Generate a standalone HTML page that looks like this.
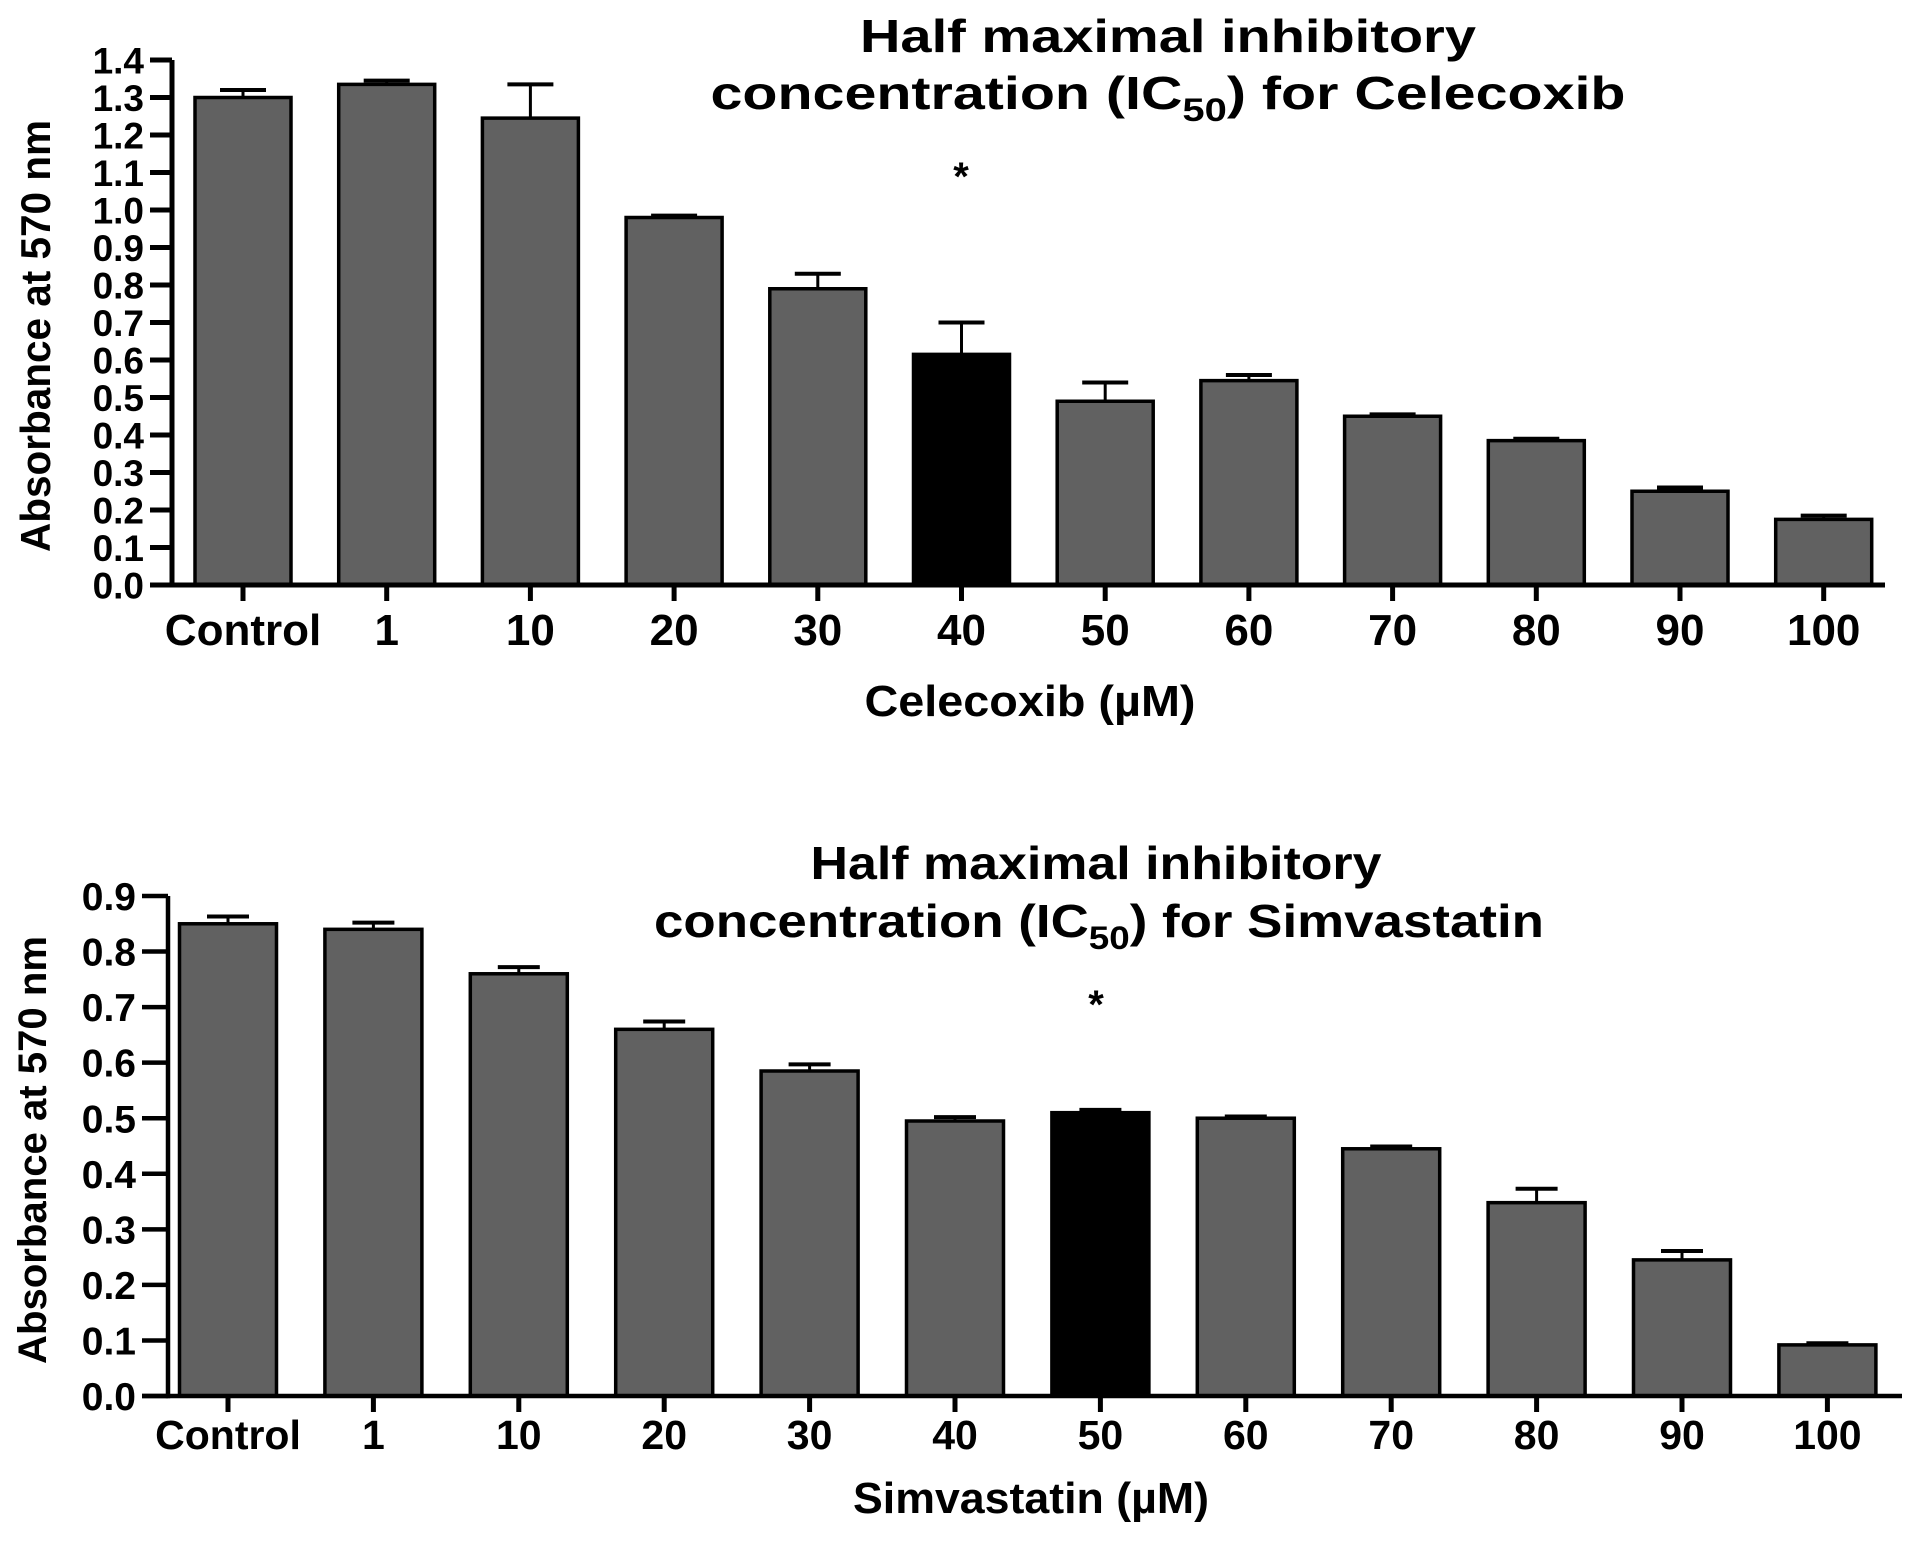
<!DOCTYPE html>
<html><head><meta charset="utf-8">
<style>
html,body{margin:0;padding:0;background:#fff;}
svg{display:block;}
text{font-family:"Liberation Sans",Arial,sans-serif;font-weight:bold;fill:#000;}
</style></head>
<body>
<svg id="fig" width="1913" height="1554" viewBox="0 0 1913 1554" xmlns="http://www.w3.org/2000/svg">
  <g id="top"></g>
  <g id="bot"></g>
  <text x="1168" y="52" font-size="46" text-anchor="middle" textLength="616" lengthAdjust="spacingAndGlyphs">Half maximal inhibitory</text>
  <text x="1168" y="109" font-size="46" text-anchor="middle" textLength="915" lengthAdjust="spacingAndGlyphs">concentration (IC<tspan font-size="32" dy="12">50</tspan><tspan dy="-12">) for Celecoxib</tspan></text>
  <text x="961" y="190" font-size="40" text-anchor="middle">*</text>
  <text x="1030" y="716" font-size="44" text-anchor="middle" textLength="331" lengthAdjust="spacingAndGlyphs">Celecoxib (µM)</text>
  <text transform="translate(50,336) rotate(-90)" font-size="42" text-anchor="middle" textLength="432" lengthAdjust="spacingAndGlyphs">Absorbance at 570 nm</text>

  <text x="1096" y="879" font-size="46" text-anchor="middle" textLength="571" lengthAdjust="spacingAndGlyphs">Half maximal inhibitory</text>
  <text x="1099" y="937" font-size="46" text-anchor="middle" textLength="890" lengthAdjust="spacingAndGlyphs">concentration (IC<tspan font-size="32" dy="12">50</tspan><tspan dy="-12">) for Simvastatin</tspan></text>
  <text x="1096" y="1018" font-size="40" text-anchor="middle">*</text>
  <text x="1031" y="1513" font-size="44" text-anchor="middle" textLength="356" lengthAdjust="spacingAndGlyphs">Simvastatin (µM)</text>
  <text transform="translate(46,1150) rotate(-90)" font-size="40" text-anchor="middle" textLength="428" lengthAdjust="spacingAndGlyphs">Absorbance at 570 nm</text>
</svg>
<script>
var categories = ["Control","1","10","20","30","40","50","60","70","80","90","100"];
var celecoxibValues = [1.30,1.335,1.245,0.98,0.79,0.615,0.49,0.545,0.45,0.385,0.25,0.175];
var celecoxibErrors = [0.02,0.01,0.09,0.005,0.04,0.085,0.05,0.015,0.005,0.005,0.01,0.01];
var celecoxibHighlight = 5;
var celecoxibTicks = ["0.0","0.1","0.2","0.3","0.4","0.5","0.6","0.7","0.8","0.9","1.0","1.1","1.2","1.3","1.4"];
var simvastatinValues = [0.85,0.84,0.76,0.66,0.585,0.495,0.51,0.50,0.445,0.348,0.245,0.092];
var simvastatinErrors = [0.013,0.012,0.012,0.014,0.012,0.007,0.005,0.003,0.004,0.025,0.016,0.003];
var simvastatinHighlight = 6;
var simvastatinTicks = ["0.0","0.1","0.2","0.3","0.4","0.5","0.6","0.7","0.8","0.9"];

var NS="http://www.w3.org/2000/svg";
function mk(tag,attrs,parent){var e=document.createElementNS(NS,tag);for(var k in attrs)e.setAttribute(k,attrs[k]);parent.appendChild(e);return e;}

function drawChart(g,cfg){
  var y=function(v){return cfg.y0-(v/cfg.ymax)*(cfg.y0-cfg.yTop);};
  var x=function(i){return cfg.x0+i*cfg.step;};
  cfg.values.forEach(function(v,i){
    var cx=x(i);
    var ytop=y(v+cfg.errors[i]);
    var l=mk('line',{x1:cx,x2:cx,y1:y(v),y2:ytop,stroke:'#000','stroke-width':3},g);
    
    
    var c=mk('line',{x1:cx-cfg.cap/2,x2:cx+cfg.cap/2,y1:ytop,y2:ytop,stroke:'#000','stroke-width':4},g);
    
    
    var r=mk('rect',{x:cx-cfg.bw/2,y:y(v),width:cfg.bw,height:cfg.y0-y(v),fill:i===cfg.hl?'#000':'#616161',stroke:'#000','stroke-width':3.5},g);
    
    
    var t=mk('line',{x1:cx,x2:cx,y1:cfg.y0,y2:cfg.y0+cfg.tickLen,stroke:'#000','stroke-width':5},g);
    
    
    var lb=mk('text',{x:cx,y:cfg.labelY,'font-size':cfg.xfs,'text-anchor':'middle'},g);
    lb.textContent=categories[i];
    
    
  });
  cfg.ticks.forEach(function(s){
    var v=parseFloat(s), yy=y(v);
    var t=mk('line',{x1:cfg.ax-cfg.ytick,x2:cfg.ax,y1:yy,y2:yy,stroke:'#000','stroke-width':cfg.aw},g);
    
    
    var lb=mk('text',{x:cfg.labelX,y:yy+cfg.yfs*0.36,'font-size':cfg.yfs,'text-anchor':'end'},g);
    lb.textContent=s;
    
    
  });
  var ya=mk('line',{x1:cfg.ax,x2:cfg.ax,y1:cfg.yTop,y2:cfg.y0+cfg.aw/2,stroke:'#000','stroke-width':cfg.aw},g);
  
  
  var xa=mk('line',{x1:cfg.ax-cfg.ytick,x2:cfg.xEnd,y1:cfg.y0,y2:cfg.y0,stroke:'#000','stroke-width':cfg.aw},g);
  
  
}

drawChart(document.getElementById('top'),{values:celecoxibValues,errors:celecoxibErrors,hl:celecoxibHighlight,ticks:celecoxibTicks,
  ymax:1.4,y0:585,yTop:60,x0:243,step:143.7,bw:96,cap:46,ax:172,ytick:22,aw:5,xEnd:1885,tickLen:16,labelY:645,xfs:44,labelX:144,yfs:37});
drawChart(document.getElementById('bot'),{values:simvastatinValues,errors:simvastatinErrors,hl:simvastatinHighlight,ticks:simvastatinTicks,
  ymax:0.9,y0:1396,yTop:896,x0:228,step:145.4,bw:97,cap:42,ax:168,ytick:26,aw:4.5,xEnd:1902,tickLen:16,labelY:1449,xfs:41,labelX:136,yfs:39});
</script>
</body></html>
